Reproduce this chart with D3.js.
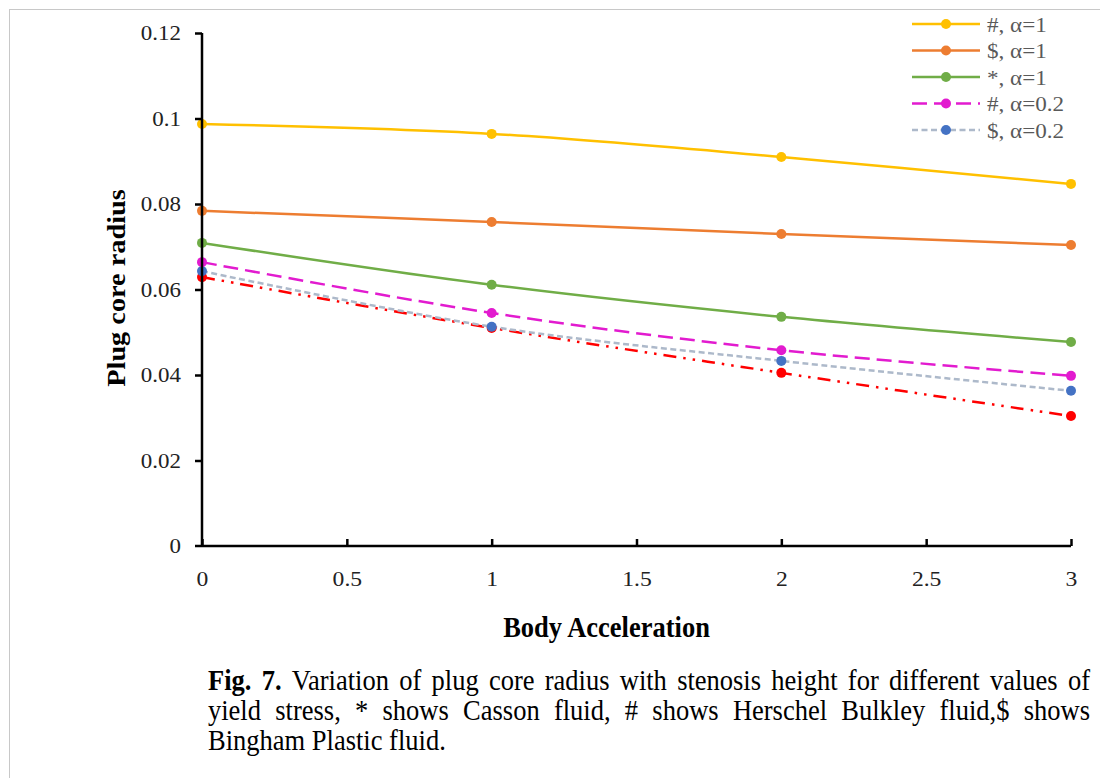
<!DOCTYPE html>
<html>
<head>
<meta charset="utf-8">
<script src="https://cdn.jsdelivr.net/npm/d3@7"></script>
<style>
  html, body { margin: 0; padding: 0; background: #fff; }
  svg { display: block; }
  text { font-family: "Liberation Serif", "Times New Roman", serif; }
</style>
</head>
<body>
<svg id="chart" width="1100" height="778"></svg>
<script>
// ---- data ----
const xValues = [0, 1, 2, 3];
const hashAlpha1 = [0.0987, 0.0964, 0.0910, 0.0847];
const dollarAlpha1 = [0.0784, 0.0758, 0.0730, 0.0704];
const starAlpha1 = [0.0709, 0.0611, 0.0536, 0.0477];
const hashAlpha02 = [0.0664, 0.0545, 0.0458, 0.0398];
const dollarAlpha02 = [0.0643, 0.0513, 0.0433, 0.0363];
const starAlpha02 = [0.0629, 0.0510, 0.0405, 0.0304];
const seriesNames = ["#, α=1", "$, α=1", "*, α=1", "#, α=0.2", "$, α=0.2", ""];
const yTicks = [0, 0.02, 0.04, 0.06, 0.08, 0.1, 0.12];
const xTicks = [0, 0.5, 1, 1.5, 2, 2.5, 3];
const xTitle = "Body Acceleration";
const yTitle = "Plug core radius";
const captionBold = ["Fig.", "7."];
const captionLines = [
  "Variation of plug core radius with stenosis height for different values of",
  "yield stress, * shows Casson fluid, # shows Herschel Bulkley fluid,$ shows",
  "Bingham Plastic fluid."
];

const seriesStyles = [
  { color: "#FFC000", dash: null, marker: "#FFC000" },
  { color: "#ED7D31", dash: null, marker: "#ED7D31" },
  { color: "#70AD47", dash: null, marker: "#70AD47" },
  { color: "#E21BCF", dash: "15,7", marker: "#E21BCF" },
  { color: "#ADB9CA", dash: "6,3.5", marker: "#4472C4" },
  { color: "#FF0000", dash: "13,7,2.5,7,2.5,7", marker: "#FF0000" }
];
const seriesData = [hashAlpha1, dollarAlpha1, starAlpha1, hashAlpha02, dollarAlpha02, starAlpha02];

const svg = d3.select("#chart");

// frame lines (top and left)
svg.append("line").attr("x1", 9).attr("x2", 1100).attr("y1", 9.5).attr("y2", 9.5)
  .attr("stroke", "#c8c8c8").attr("stroke-width", 1);
svg.append("line").attr("x1", 9.5).attr("x2", 9.5).attr("y1", 9).attr("y2", 778)
  .attr("stroke", "#c8c8c8").attr("stroke-width", 1);

const x = d3.scaleLinear().domain([0, 3]).range([202, 1071]);
const y = d3.scaleLinear().domain([0, 0.12]).range([546, 33]);

// lines
const line = d3.line()
  .x((d, i) => x(xValues[i]))
  .y(d => y(d))
  .curve(d3.curveCatmullRom.alpha(0.5));

const order = [5, 4, 3, 2, 1, 0];
order.forEach(k => {
  const st = seriesStyles[k];
  svg.append("path")
    .datum(seriesData[k])
    .attr("d", line)
    .attr("fill", "none")
    .attr("stroke", st.color)
    .attr("stroke-width", 2.5)
    .attr("stroke-dasharray", st.dash);
});
order.forEach(k => {
  const st = seriesStyles[k];
  svg.append("g").selectAll("circle")
    .data(seriesData[k])
    .join("circle")
    .attr("cx", (d, i) => x(xValues[i]))
    .attr("cy", d => y(d))
    .attr("r", 5)
    .attr("fill", st.marker);
});

// axes
const yAxis = d3.axisLeft(y).tickValues(yTicks).tickSize(7).tickFormat(d => String(+d.toFixed(2)));
const gy = svg.append("g").attr("transform", `translate(${x(0)},0)`).call(yAxis);
gy.select(".domain").attr("stroke", "#000").attr("stroke-width", 2.5)
  .attr("d", `M0,${y(0.12)}V${y(0)}`);
gy.selectAll(".tick line").attr("stroke", "#000").attr("stroke-width", 2.5);
gy.selectAll(".tick text").attr("x", 0).attr("dy", "0.34em").attr("fill", "#222")
  .attr("transform", "translate(-21,0) scale(1.12,1)")
  .style("font-size", "20.5px").style("font-family", "'Liberation Serif', serif");
gy.select(".tick line").attr("x2", 0);

const xAxis = d3.axisBottom(x).tickValues(xTicks).tickSize(-7).tickFormat(d => String(d));
const gx = svg.append("g").attr("transform", `translate(0,${y(0)})`).call(xAxis);
gx.select(".domain").attr("stroke", "#000").attr("stroke-width", 2.5)
  .attr("d", `M${x(0) - 7},0H${x(3)}`);
gx.selectAll(".tick line").attr("stroke", "#000").attr("stroke-width", 2.5);
gx.selectAll(".tick text").attr("y", 0).attr("dy", 0).attr("fill", "#222")
  .attr("transform", "translate(0,40) scale(1.18,1)")
  .style("font-size", "20px").style("font-family", "'Liberation Serif', serif");

// axis titles
svg.append("text").attr("transform", "translate(606.5,637) scale(1,1.12)").attr("text-anchor", "middle")
  .attr("font-weight", "bold").attr("font-size", "26.5px").attr("fill", "#000").text(xTitle);
svg.append("text").attr("transform", "translate(125,288) rotate(-90) scale(1.11,1)").attr("text-anchor", "middle")
  .attr("font-weight", "bold").attr("font-size", "25.5px").attr("fill", "#000").text(yTitle);

// legend
const legY = [24, 50.5, 77, 103.5, 130];
for (let k = 0; k < 5; k++) {
  const st = seriesStyles[k];
  const g = svg.append("g").attr("transform", `translate(0,${legY[k]})`);
  g.append("line").attr("x1", 912).attr("x2", 980).attr("y1", 0).attr("y2", 0)
    .attr("stroke", st.color).attr("stroke-width", 2.5).attr("stroke-dasharray", st.dash);
  g.append("circle").attr("cx", 946).attr("cy", 0).attr("r", 5).attr("fill", st.marker);
  g.append("text").attr("transform", "translate(987,7.5) scale(1.05,1)").attr("font-size", "22px").attr("fill", "#595959")
    .text(seriesNames[k]);
}

// caption (justified)
const capLeft = 208, capRight = 1090, capFont = 26.5, capSy = 1.08;
const baselines = [690, 720, 750];
function measure(w, bold) {
  const t = svg.append("text").attr("font-size", capFont + "px")
    .attr("font-weight", bold ? "bold" : "normal").text(w);
  const wd = t.node().getComputedTextLength();
  t.remove();
  return wd;
}
captionLines.forEach((ln, li) => {
  let items = [];
  if (li === 0) captionBold.forEach(w => items.push({ w, bold: true }));
  ln.split(" ").forEach(w => items.push({ w, bold: false }));
  items.forEach(it => it.wdt = measure(it.w, it.bold));
  const total = d3.sum(items, d => d.wdt);
  const justify = li < captionLines.length - 1;
  const gap = justify ? (capRight - capLeft - total) / (items.length - 1) : capFont * 0.25;
  const txt = svg.append("text")
    .attr("transform", `translate(0,${baselines[li]}) scale(1,${capSy})`)
    .attr("font-size", capFont + "px").attr("fill", "#000");
  let cx = capLeft;
  items.forEach(it => {
    txt.append("tspan").attr("x", cx).attr("font-weight", it.bold ? "bold" : "normal").text(it.w);
    cx += it.wdt + gap;
  });
});
</script>
</body>
</html>
